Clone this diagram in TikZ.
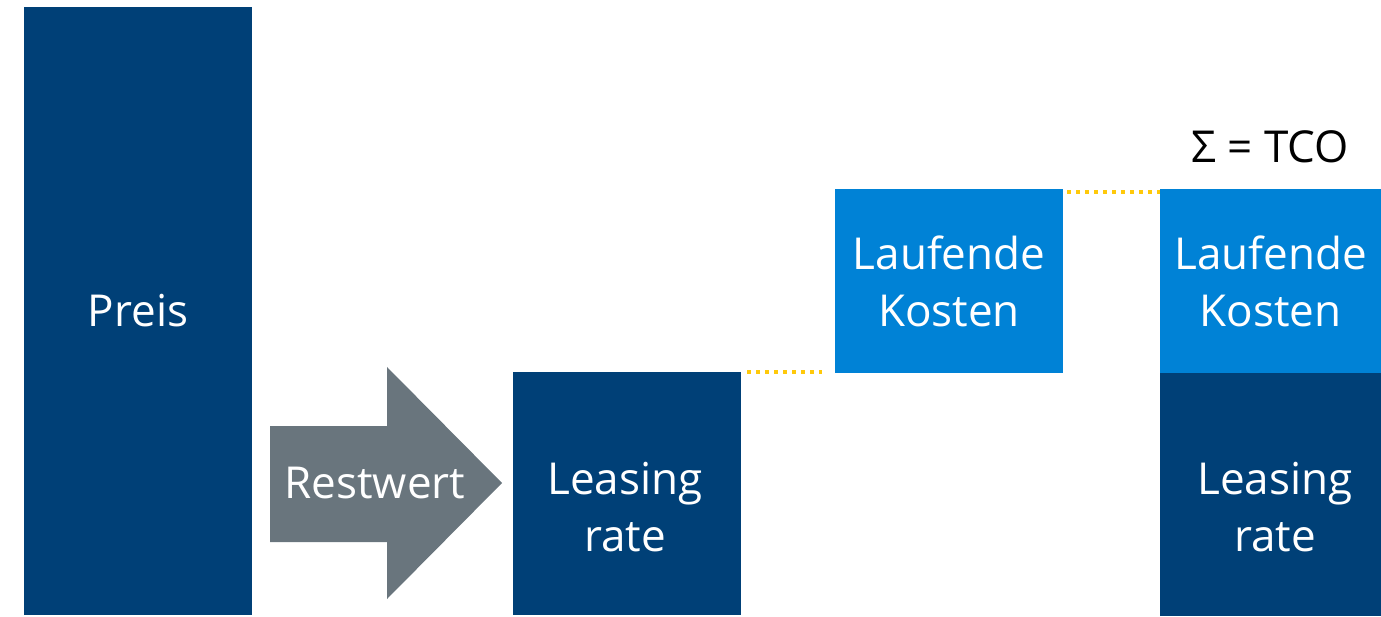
\documentclass[tikz,border=0pt]{standalone}
\usepackage{fontspec}
\setmainfont{Open Sans}
\definecolor{darkblue}{HTML}{004077}
\definecolor{lightblue}{HTML}{0082D6}
\definecolor{arrowgray}{HTML}{69757D}
\definecolor{dotyellow}{HTML}{FFC90A}
\begin{document}
\begin{tikzpicture}[x=1pt,y=-1pt,
  box/.style={rectangle, inner sep=0pt, outer sep=0pt, text=white, align=center,
    font=\fontsize{44}{57}\selectfont},
  dark/.style={box, fill=darkblue},
  light/.style={box, fill=lightblue},
  dotline/.style={draw=dotyellow, line width=4pt, dash pattern=on 4pt off 5pt}]
\useasboundingbox (0,0) rectangle (1381,617);
\node[dark, minimum width=228pt, minimum height=608pt] (preis) at (138,311) {Preis};
% arrow
\fill[arrowgray] (270,426) -- (387,426) -- (387,367) -- (502,483) -- (387,599) -- (387,542) -- (270,542) -- cycle;
\node[box] (rest) at (375,483) {Restwert};
\node[dark, minimum width=228pt, minimum height=243pt] (lr1) at (627,493.5) {};
\node[box] (lr1t) at (625,507) {Leasing\\rate};
\node[light, minimum width=228pt, minimum height=184pt] (lk1) at (949,281) {Laufende\\Kosten};
\node[light, minimum width=221pt, minimum height=184pt] (lk2) at (1270.5,281) {Laufende\\Kosten};
\node[dark, minimum width=221pt, minimum height=243pt] (lr2) at (1270.5,494.5) {};
\node[box] (lr2t) at (1275,507) {Leasing\\rate};
\node[box, text=black] (tco) at (1270,147) {Σ = TCO};
\draw[dotline] ([xshift=6pt]lr1.north east) -- ([xshift=-13pt]lk1.south west |- lr1.north east);
\draw[dotline] ([xshift=4pt,yshift=-3pt]lk1.north east) -- ([yshift=-3pt]lk2.north west);
\end{tikzpicture}
\end{document}
